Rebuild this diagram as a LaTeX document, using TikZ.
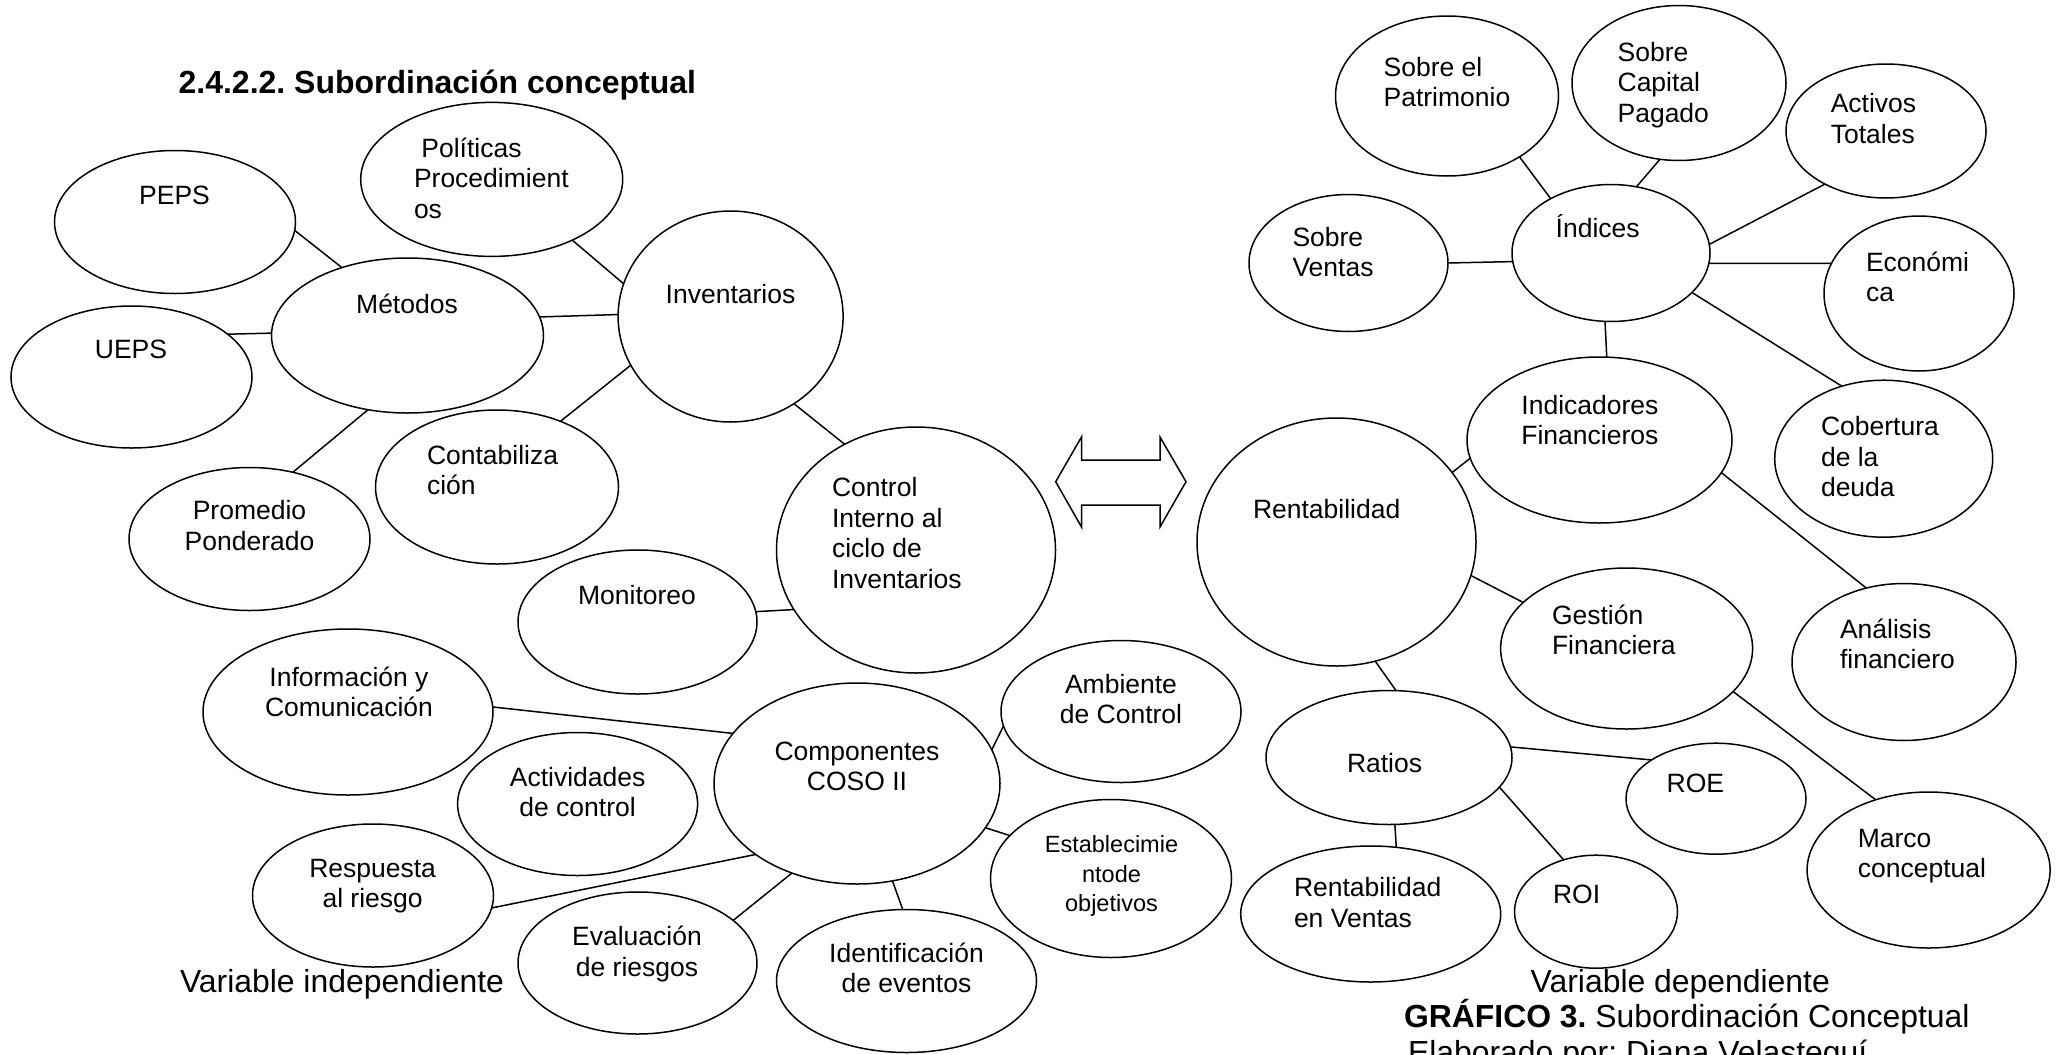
\documentclass[tikz,border=0pt]{standalone}
\usepackage{fontspec}
\setmainfont{Liberation Sans}
\usetikzlibrary{shapes.geometric}
\newcommand\lnsC[1]{\begin{tabular}[t]{@{}c@{}}#1\end{tabular}}
\newcommand\lnsL[1]{\begin{tabular}[t]{@{}l@{}}#1\end{tabular}}
\frenchspacing
\begin{document}
\begin{tikzpicture}[x=1pt,y=-1pt,
  bub/.style={draw, ellipse, line width=1.5pt, inner sep=0pt, outer sep=0pt},
  conn/.style={line width=1.5pt},
  txt/.style={inner sep=0pt, outer sep=0pt, font=\fontsize{26.5}{30.5}\selectfont, anchor=base},
  txtl/.style={txt, anchor=base west},
  big/.style={inner sep=0pt, outer sep=0pt, font=\fontsize{31.9}{36}\selectfont, anchor=base west}]
\fill[white] (0,0) rectangle (2062,1055);
\useasboundingbox (0,0) rectangle (2062,1055);
\clip (0,0) rectangle (2062,1055);

% ---------- left ellipses
\node[bub, minimum width=241pt, minimum height=143pt] (peps) at (175,222) {};
\node[bub, minimum width=272pt, minimum height=155pt] (metodos) at (407.5,335.5) {};
\node[bub, minimum width=241pt, minimum height=142pt] (ueps) at (131.5,377) {};
\node[bub, minimum width=241pt, minimum height=143pt] (prom) at (249.5,539) {};
\node[bub, minimum width=262pt, minimum height=154pt] (pol) at (491.7,179.4) {};
\node[bub, minimum width=243pt, minimum height=154pt] (cont) at (497,487) {};
\node[bub, minimum width=225pt, minimum height=211pt] (inv) at (730.6,316.5) {};
\node[bub, minimum width=279pt, minimum height=246pt] (ctrl) at (916,550) {};
\node[bub, minimum width=239pt, minimum height=144pt] (mon) at (637.5,622) {};
\node[bub, minimum width=290pt, minimum height=166pt] (info) at (348,712) {};
\node[bub, minimum width=286pt, minimum height=201pt] (coso) at (857,783.5) {};
\node[bub, minimum width=240pt, minimum height=142pt] (amb) at (1121,711.5) {};
\node[bub, minimum width=240pt, minimum height=143pt] (act) at (577.6,804) {};
\node[bub, minimum width=241pt, minimum height=143pt] (resp) at (373,895.5) {};
\node[bub, minimum width=239pt, minimum height=142pt] (eval) at (637.5,963) {};
\node[bub, minimum width=260pt, minimum height=143pt] (ident) at (906.5,981) {};
\node[bub, minimum width=241pt, minimum height=158pt] (estab) at (1111,878.5) {};

% ---------- right ellipses
\node[bub, minimum width=223pt, minimum height=160pt] (patr) at (1447,96) {};
\node[bub, minimum width=214pt, minimum height=155pt] (cap) at (1679,83) {};
\node[bub, minimum width=200pt, minimum height=134pt] (acti) at (1886,131) {};
\node[bub, minimum width=199pt, minimum height=137pt] (sv) at (1348.5,263) {};
\node[bub, minimum width=198pt, minimum height=137pt] (ind) at (1611,253) {};
\node[bub, minimum width=190pt, minimum height=155pt] (eco) at (1919,293.5) {};
\node[bub, minimum width=265pt, minimum height=166pt] (indf) at (1599.5,440) {};
\node[bub, minimum width=218pt, minimum height=157pt] (cob) at (1883.7,458.7) {};
\node[bub, minimum width=279pt, minimum height=248pt] (rent) at (1336.5,542) {};
\node[bub, minimum width=224pt, minimum height=157pt] (anal) at (1904,662) {};
\node[bub, minimum width=252pt, minimum height=161pt] (gest) at (1626.6,648.5) {};
\node[bub, minimum width=243pt, minimum height=156pt] (marco) at (1928.6,870) {};
\node[bub, minimum width=246pt, minimum height=134pt] (ratios) at (1389,757.5) {};
\node[bub, minimum width=180pt, minimum height=111pt] (roe) at (1716,798.7) {};
\node[bub, minimum width=163pt, minimum height=113pt] (roi) at (1596,911.7) {};
\node[bub, minimum width=260pt, minimum height=136pt] (rv) at (1370.7,914) {};

% ---------- left connectors
\draw[conn] (peps.-4) -- (metodos.134);
\draw[conn] (ueps.24.6) -- (metodos.179);
\draw[conn] (metodos.242.6) -- (prom.57.6);
\draw[conn] (metodos.8.8) -- (inv.179.2);
\draw[conn] (pol.-37.1) -- (inv.163);
\draw[conn] (cont.46.3) -- (inv.206.7);
\draw[conn] (inv.-54) -- (ctrl.124.2);
\draw[conn] (mon.5.4) -- (ctrl.206.3);
\draw[conn] (info.2.4) -- (coso.158.5);
\draw[conn] (amb.187.7) -- (coso.14.1);
\draw[conn] (resp.-6.6) -- (coso.215.2);
\draw[conn] (eval.24.9) -- (coso.234.6);
\draw[conn] (coso.290) -- (ident.93);
\draw[conn] (coso.341.7) -- (estab.157.9);

% ---------- right connectors
\draw[conn] (patr.-40.7) -- (ind.138.5);
\draw[conn] (cap.256.1) -- (ind.69.8);
\draw[conn] (acti.221) -- (ind.5.9);
\draw[conn] (sv.0) -- (ind.185.7);
\draw[conn] (ind.-6) -- (eco.161);
\draw[conn] (ind.-26.4) -- (cob.120);
\draw[conn] (ind.265.7) -- (indf.85.7);
\draw[conn] (indf.188.4) -- (rent.31);
\draw[conn] (indf.-15.8) -- (anal.117.4);
\draw[conn] (rent.-14.8) -- (gest.156.9);
\draw[conn] (gest.-22.8) -- (marco.127.8);
\draw[conn] (rent.288.1) -- (ratios.84.5);
\draw[conn] (ratios.5.8) -- (roe.149.7);
\draw[conn] (ratios.-15) -- (roi.122.2);
\draw[conn] (ratios.275.7) -- (rv.69.7);

% ---------- double arrow
\draw[conn, line join=miter] (1055.7,481.7) -- (1081.5,437) -- (1081.5,460) -- (1160,460) -- (1160,437)
  -- (1186,481.7) -- (1160,527) -- (1160,505) -- (1081.5,505) -- (1081.5,527) -- cycle;

% ---------- left texts
\node[big, font=\fontsize{32}{38}\selectfont\bfseries] (title) at (178.6,93.6) {2.4.2.2. Subordinación conceptual};
\node[txt] (peps-t) at (174.5,204) {PEPS};
\node[txt] (metodos-t) at (407,313) {Métodos};
\node[txt] (ueps-t) at (131,358) {UEPS};
\node[txt] (prom-t) at (249.5,519.5) {\lnsC{Promedio\\Ponderado}};
\node[txtl] (pol-t) at (414,157) {\lnsL{\ Políticas\\Procedimient\\os}};
\node[txt] (inv-t) at (730.5,303) {Inventarios};
\node[txtl] (cont-t) at (427,464) {\lnsL{Contabiliza\\ción}};
\node[txtl] (ctrl-t) at (832,496.7) {\lnsL{Control\\Interno al\\ciclo de\\Inventarios}};
\node[txt] (mon-t) at (637,604.5) {Monitoreo};
\node[txt] (info-t) at (349,686) {\lnsC{Información y\\Comunicación}};
\node[txt] (coso-t) at (857,760) {\lnsC{Componentes\\COSO II}};
\node[txt] (amb-t) at (1121,693) {\lnsC{Ambiente\\de Control}};
\node[txt] (act-t) at (577.6,786) {\lnsC{Actividades\\de control}};
\node[txt] (resp-t) at (372.6,877) {\lnsC{Respuesta\\al riesgo}};
\node[txt] (eval-t) at (637,945.5) {\lnsC{Evaluación\\de riesgos}};
\node[txt] (ident-t) at (906.5,962) {\lnsC{Identificación\\de eventos}};
\node[txt, font=\fontsize{23.5}{29.5}\selectfont] (estab-t) at (1111.5,852.7) {\lnsC{Establecimie\\ntode\\objetivos}};
\node[big] (vi) at (180,992) {Variable independiente};

% ---------- right texts
\node[txtl] (patr-t) at (1383.6,76) {\lnsL{Sobre el\\Patrimonio}};
\node[txtl] (cap-t) at (1617.6,61) {\lnsL{Sobre\\Capital\\Pagado}};
\node[txtl] (acti-t) at (1830.8,112.5) {\lnsL{Activos\\Totales}};
\node[txtl] (sv-t) at (1292.5,246) {\lnsL{Sobre\\Ventas}};
\node[txtl] (ind-t) at (1555.7,237.5) {Índices};
\node[txtl] (eco-t) at (1866,271) {\lnsL{Económi\\ca}};
\node[txtl] (indf-t) at (1521.4,414) {\lnsL{Indicadores\\Financieros}};
\node[txtl] (cob-t) at (1821,435.7) {\lnsL{Cobertura\\de la\\deuda}};
\node[txtl] (rent-t) at (1253,518) {Rentabilidad};
\node[txtl] (anal-t) at (1840,638) {\lnsL{Análisis\\financiero}};
\node[txtl] (gest-t) at (1552,624) {\lnsL{Gestión\\Financiera}};
\node[txtl] (marco-t) at (1857.8,847) {\lnsL{Marco\\conceptual}};
\node[txtl] (ratios-t) at (1347,772.6) {Ratios};
\node[txtl] (roe-t) at (1666.6,792) {ROE};
\node[txtl] (roi-t) at (1553,903.6) {ROI};
\node[txtl] (rv-t) at (1294,896.5) {\lnsL{Rentabilidad\\en Ventas}};
\node[big] (vd) at (1530.7,992) {Variable dependiente};
\node[big] (graf) at (1404,1027.5) {\textbf{GRÁFICO 3.} Subordinación Conceptual};
\node[big] (elab) at (1408,1063) {Elaborado por: Diana Velasteguí};
\end{tikzpicture}
\end{document}
